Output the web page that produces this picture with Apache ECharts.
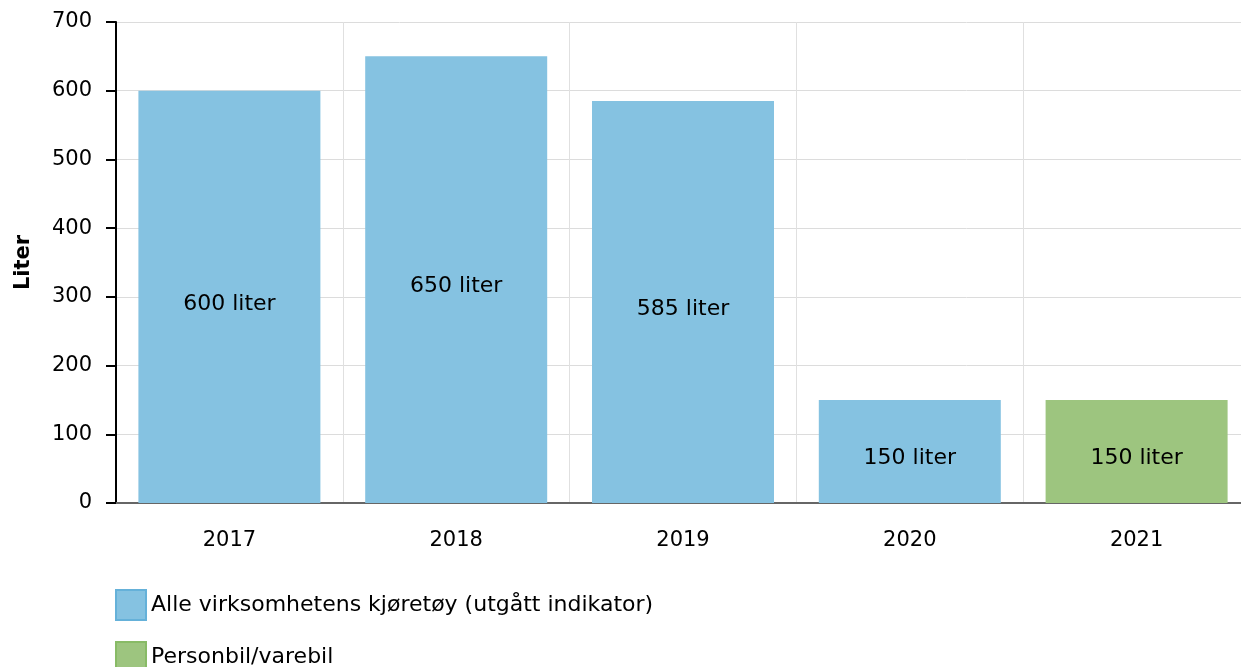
<!DOCTYPE html>
<html>
<head>
<meta charset="utf-8">
<script src="https://cdn.jsdelivr.net/npm/echarts@6/dist/echarts.min.js"></script>
<style>
  html, body { margin: 0; padding: 0; background: #fff; overflow: hidden; }
  #chart { width: 1250px; height: 667px; }
</style>
</head>
<body>
<div id="chart"></div>
<script>
var years = ['2017', '2018', '2019', '2020', '2021'];
var alleKjoretoy = [600, 650, 585, 150, null];
var personbil = [null, null, null, null, 150];
var yTicks = [0, 100, 200, 300, 400, 500, 600, 700];
var seriesNames = ['Alle virksomhetens kjøretøy (utgått indikator)', 'Personbil/varebil'];

var chart = echarts.init(document.getElementById('chart'));
var font = 'Verdana, "DejaVu Sans", sans-serif';

function legendAt(name, top, border) {
  return {
    left: 110,
    top: top,
    itemWidth: 30,
    itemHeight: 30,
    itemGap: 7,
    icon: 'rect',
    textStyle: { fontSize: 22, color: '#000', fontFamily: font },
    data: [{ name: name, itemStyle: { borderColor: border, borderWidth: 2 } }]
  };
}

function barLabel() {
  return {
    show: true,
    position: 'inside',
    offset: [0, 7],
    fontSize: 22,
    color: '#000',
    fontFamily: font,
    formatter: function (p) { return p.value + ' liter'; }
  };
}

var option = {
  animation: false,
  textStyle: { fontFamily: font },
  grid: { left: 116, right: 0, top: 22, bottom: 164 },
  legend: [
    legendAt(seriesNames[0], 584, '#65b1d9'),
    legendAt(seriesNames[1], 636, '#88bb66')
  ],
  xAxis: {
    type: 'category',
    data: years,
    axisLine: { lineStyle: { color: '#666', width: 2 } },
    axisTick: { alignWithLabel: true, length: 8, lineStyle: { color: '#999', width: 2 } },
    axisLabel: { fontSize: 21, color: '#000', margin: 27, fontFamily: font },
    splitLine: { show: true, lineStyle: { color: '#e0e0e0', width: 1 } }
  },
  yAxis: {
    type: 'value',
    min: yTicks[0],
    max: yTicks[yTicks.length - 1],
    interval: 100,
    name: 'Liter',
    nameLocation: 'middle',
    nameGap: 82,
    nameTextStyle: { fontSize: 21, fontWeight: 'bold', color: '#000', fontFamily: font },
    axisLine: { show: true, lineStyle: { color: '#000', width: 2 } },
    axisTick: { show: true, length: 10, lineStyle: { color: '#000', width: 2 } },
    axisLabel: { fontSize: 21, color: '#000', margin: 24, fontFamily: font },
    splitLine: { show: true, lineStyle: { color: '#dcdcdc', width: 1 } }
  },
  series: [
    {
      name: seriesNames[0],
      type: 'bar',
      stack: 'total',
      barWidth: 182,
      data: alleKjoretoy,
      itemStyle: { color: '#85c2e1' },
      label: barLabel()
    },
    {
      name: seriesNames[1],
      type: 'bar',
      stack: 'total',
      barWidth: 182,
      data: personbil,
      itemStyle: { color: '#9dc57f' },
      label: barLabel()
    }
  ]
};
chart.setOption(option);
</script>
</body>
</html>
